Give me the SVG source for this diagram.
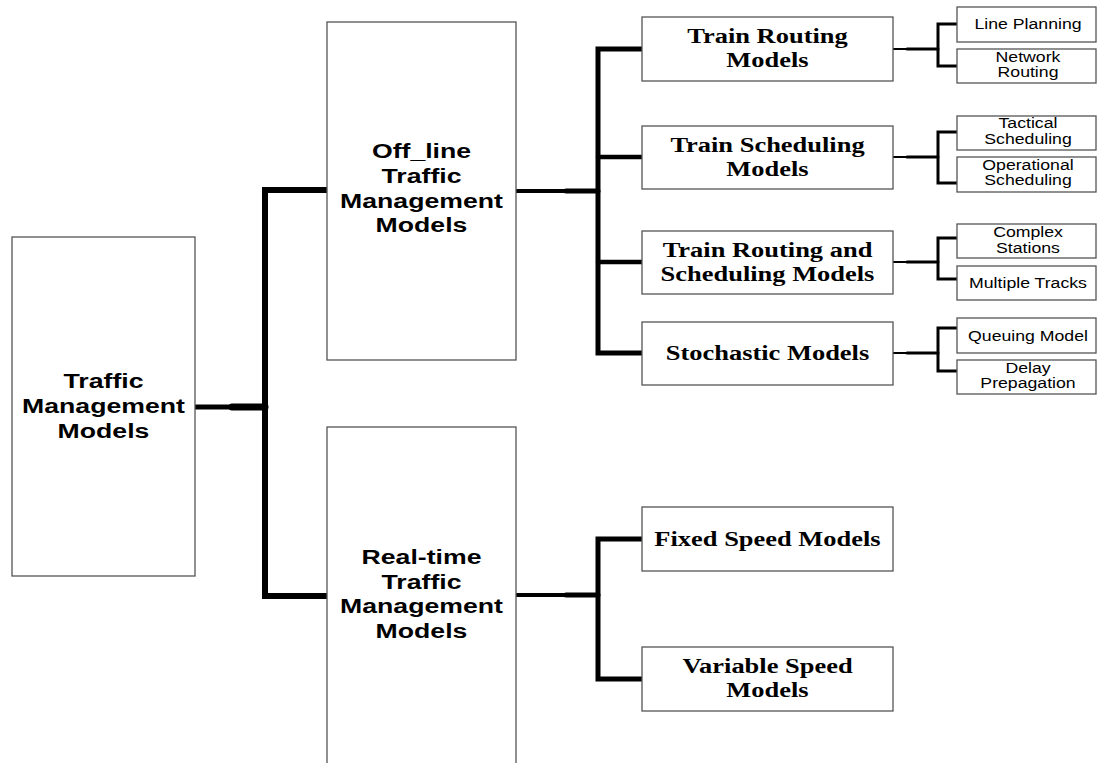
<svg xmlns="http://www.w3.org/2000/svg" width="1097" height="763" viewBox="0 0 1097 763">
<style>
.box{fill:#fff;stroke:#555;stroke-width:1.3}
.bs{font-family:"Liberation Sans",Arial,sans-serif;font-weight:bold;font-size:20.5px;text-anchor:middle;fill:#000}
.sf{font-family:"Liberation Serif","Times New Roman",serif;font-weight:bold;font-size:21px;text-anchor:middle;fill:#000}
.sm{font-family:"Liberation Sans",Arial,sans-serif;font-size:14.5px;text-anchor:middle;fill:#000}
.c{fill:none;stroke:#000;stroke-linecap:round;stroke-linejoin:miter}
</style>
<rect width="1097" height="763" fill="#fff"/>
<g id="connectors">
  <path class="c" d="M195 407H232" stroke-width="5"/>
  <path class="c" d="M232 407H265" stroke-width="7" stroke-linecap="butt"/>
  <path class="c" d="M328 190H265V596H328" stroke-width="6"/>
  <path class="c" d="M516 191H566" stroke-width="4"/>
  <path class="c" d="M566 191H598" stroke-width="5" stroke-linecap="butt"/>
  <path class="c" d="M642 49H598V353H642" stroke-width="5"/>
  <path class="c" d="M598 157H642" stroke-width="4.5"/>
  <path class="c" d="M598 262H642" stroke-width="4.5"/>
  <path class="c" d="M516 595H566" stroke-width="4"/>
  <path class="c" d="M566 595H598" stroke-width="5" stroke-linecap="butt"/>
  <path class="c" d="M642 539H598V679H642" stroke-width="5"/>
  <path class="c" d="M893 49H907" stroke-width="2"/>
  <path class="c" d="M907 49H938" stroke-width="3" stroke-linecap="butt"/>
  <path class="c" d="M957 24H938V66H957" stroke-width="3"/>
  <path class="c" d="M893 157H907" stroke-width="2"/>
  <path class="c" d="M907 157H938" stroke-width="3" stroke-linecap="butt"/>
  <path class="c" d="M957 132H938V183H957" stroke-width="3"/>
  <path class="c" d="M893 262H907" stroke-width="2"/>
  <path class="c" d="M907 262H938" stroke-width="3" stroke-linecap="butt"/>
  <path class="c" d="M957 238H938V279H957" stroke-width="3"/>
  <path class="c" d="M893 353H907" stroke-width="2"/>
  <path class="c" d="M907 353H938" stroke-width="3" stroke-linecap="butt"/>
  <path class="c" d="M957 328H938V371H957" stroke-width="3"/>
</g>
<g id="traffic-management">
  <rect class="box" x="12" y="237" width="183" height="339"/>
  <text class="bs" transform="translate(103.5,388) scale(1.3,1)">Traffic</text>
  <text class="bs" transform="translate(103.5,413) scale(1.3,1)">Management</text>
  <text class="bs" transform="translate(103.5,438) scale(1.3,1)">Models</text>
</g>
<g id="offline">
  <rect class="box" x="327" y="22" width="189" height="338"/>
  <text class="bs" transform="translate(421.5,158) scale(1.3,1)">Off_line</text>
  <text class="bs" transform="translate(421.5,183) scale(1.3,1)">Traffic</text>
  <text class="bs" transform="translate(421.5,208) scale(1.3,1)">Management</text>
  <text class="bs" transform="translate(421.5,232) scale(1.3,1)">Models</text>
</g>
<g id="realtime">
  <rect class="box" x="327" y="427" width="189" height="345"/>
  <text class="bs" transform="translate(421.5,564) scale(1.3,1)">Real-time</text>
  <text class="bs" transform="translate(421.5,589) scale(1.3,1)">Traffic</text>
  <text class="bs" transform="translate(421.5,613) scale(1.3,1)">Management</text>
  <text class="bs" transform="translate(421.5,638) scale(1.3,1)">Models</text>
</g>
<g id="train-routing">
  <rect class="box" x="642" y="17" width="251" height="64"/>
  <text class="sf" transform="translate(767.5,43) scale(1.26,1)">Train Routing</text>
  <text class="sf" transform="translate(767.5,67) scale(1.26,1)">Models</text>
</g>
<g id="train-scheduling">
  <rect class="box" x="642" y="126" width="251" height="63"/>
  <text class="sf" transform="translate(767.5,152) scale(1.26,1)">Train Scheduling</text>
  <text class="sf" transform="translate(767.5,176) scale(1.26,1)">Models</text>
</g>
<g id="train-routing-scheduling">
  <rect class="box" x="642" y="231" width="251" height="63"/>
  <text class="sf" transform="translate(767.5,257) scale(1.26,1)">Train Routing and</text>
  <text class="sf" transform="translate(767.5,281) scale(1.26,1)">Scheduling Models</text>
</g>
<g id="stochastic">
  <rect class="box" x="642" y="322" width="251" height="63"/>
  <text class="sf" transform="translate(767.5,360) scale(1.26,1)">Stochastic Models</text>
</g>
<g id="fixed-speed">
  <rect class="box" x="642" y="507" width="251" height="64"/>
  <text class="sf" transform="translate(767.5,546) scale(1.26,1)">Fixed Speed Models</text>
</g>
<g id="variable-speed">
  <rect class="box" x="642" y="647" width="251" height="64"/>
  <text class="sf" transform="translate(767.5,673) scale(1.26,1)">Variable Speed</text>
  <text class="sf" transform="translate(767.5,697) scale(1.26,1)">Models</text>
</g>
<g id="line-planning">
  <rect class="box" x="957" y="7" width="139" height="35"/>
  <text class="sm" transform="translate(1028,29) scale(1.22,1)">Line Planning</text>
</g>
<g id="network-routing">
  <rect class="box" x="957" y="49" width="139" height="34"/>
  <text class="sm" transform="translate(1028,62) scale(1.22,1)">Network</text>
  <text class="sm" transform="translate(1028,77) scale(1.22,1)">Routing</text>
</g>
<g id="tactical-scheduling">
  <rect class="box" x="957" y="116" width="139" height="34"/>
  <text class="sm" transform="translate(1028,128) scale(1.22,1)">Tactical</text>
  <text class="sm" transform="translate(1028,144) scale(1.22,1)">Scheduling</text>
</g>
<g id="operational-scheduling">
  <rect class="box" x="957" y="157" width="139" height="35"/>
  <text class="sm" transform="translate(1028,170) scale(1.22,1)">Operational</text>
  <text class="sm" transform="translate(1028,185) scale(1.22,1)">Scheduling</text>
</g>
<g id="complex-stations">
  <rect class="box" x="957" y="224" width="139" height="34"/>
  <text class="sm" transform="translate(1028,237) scale(1.22,1)">Complex</text>
  <text class="sm" transform="translate(1028,253) scale(1.22,1)">Stations</text>
</g>
<g id="multiple-tracks">
  <rect class="box" x="957" y="266" width="139" height="34"/>
  <text class="sm" transform="translate(1028,288) scale(1.22,1)">Multiple Tracks</text>
</g>
<g id="queuing-model">
  <rect class="box" x="957" y="318" width="139" height="35"/>
  <text class="sm" transform="translate(1028,341) scale(1.22,1)">Queuing Model</text>
</g>
<g id="delay-propagation">
  <rect class="box" x="957" y="360" width="139" height="34"/>
  <text class="sm" transform="translate(1028,373) scale(1.22,1)">Delay</text>
  <text class="sm" transform="translate(1028,388) scale(1.22,1)">Prepagation</text>
</g>
</svg>
